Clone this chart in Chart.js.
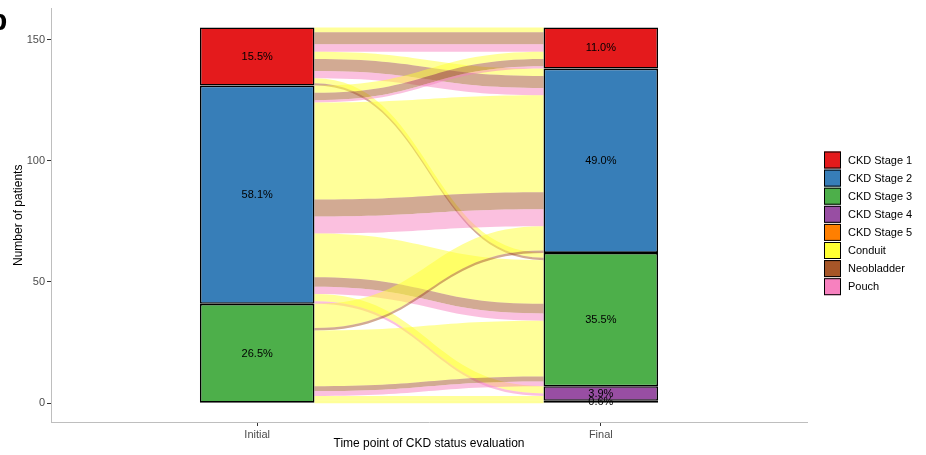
<!DOCTYPE html>
<html>
<head>
<meta charset="utf-8">
<script src="https://cdn.jsdelivr.net/npm/chart.js@4.4.0/dist/chart.umd.min.js"></script>
<style>
  html, body { margin: 0; padding: 0; background: #fff; }
  canvas { display: block; }
</style>
</head>
<body>
<canvas id="alluvialChart" width="926" height="455"></canvas>
<script>
const timePoints = ['Initial', 'Final'];
const stages = ['CKD Stage 1', 'CKD Stage 2', 'CKD Stage 3', 'CKD Stage 4', 'CKD Stage 5'];
const surgeries = ['Conduit', 'Neobladder', 'Pouch'];
const initialCounts = [24, 90, 41, 0, 0];
const finalCounts = [17, 76, 55, 6, 1];
const yTicks = [0, 50, 100, 150];

// flujos: etapa inicial -> etapa final, por tipo de derivacion (1..5, 0=Conduit 1=Neobladder 2=Pouch)
const flowFrom  = [1, 1, 1, 1, 1, 1, 1, 1, 2, 2, 2, 2, 2, 2, 2, 2, 2, 2, 2, 3, 3, 3, 3, 3, 3, 3];
const flowTo    = [1, 1, 1, 2, 2, 2, 3, 3, 1, 1, 1, 2, 2, 2, 3, 3, 3, 4, 4, 2, 2, 3, 3, 3, 4, 5];
const flowType  = [0, 1, 2, 0, 1, 2, 0, 1, 0, 1, 2, 0, 1, 2, 0, 1, 2, 0, 2, 0, 1, 0, 1, 2, 0, 0];
const flowCount = [2, 5, 3, 3, 5, 3, 2, 1, 3, 3, 1, 40, 7, 7, 18, 4, 3, 3, 1, 10, 1, 23, 2, 2, 2, 1];

const stageColors = ['#E41A1C', '#377EB8', '#4DAF4A', '#984EA3', '#FF7F00'];
const surgeryColors = ['#FFFF33', '#A65628', '#F781BF'];
const flowColors = ['rgba(255,255,51,0.5)', 'rgba(166,86,40,0.5)', 'rgba(247,129,191,0.5)'];
const stratumWidth = 1 / 3;

Chart.defaults.font.family = '"Liberation Sans", Arial, sans-serif';

function stackTops(counts) {
    let top = counts.reduce((a, b) => a + b, 0);
    return counts.map(c => { const t = top; top -= c; return t; });
}

const initTops = stackTops(initialCounts);
const finalTops = stackTops(finalCounts);
const total = initialCounts.reduce((a, b) => a + b, 0);

// posicion de cada flujo dentro de su estrato
const leftTop = [], rightTop = [];
const idx = flowCount.map((_, i) => i);
const leftCursor = initTops.slice(), rightCursor = finalTops.slice();
idx.slice().sort((a, b) => flowFrom[a] - flowFrom[b] || flowTo[a] - flowTo[b] || flowType[a] - flowType[b])
    .forEach(i => { const s = flowFrom[i] - 1; leftTop[i] = leftCursor[s]; leftCursor[s] -= flowCount[i]; });
idx.slice().sort((a, b) => flowTo[a] - flowTo[b] || flowFrom[a] - flowFrom[b] || flowType[a] - flowType[b])
    .forEach(i => { const s = flowTo[i] - 1; rightTop[i] = rightCursor[s]; rightCursor[s] -= flowCount[i]; });

const flowPlugin = {
    id: 'flows',
    beforeDatasetsDraw(chart) {
        const { ctx, scales: { x, y } } = chart;
        const x0 = x.getPixelForValue(1 + stratumWidth / 2);
        const x1 = x.getPixelForValue(2 - stratumWidth / 2);
        const xm = (x0 + x1) / 2;
        ctx.save();
        flowCount.forEach((n, i) => {
            const a0 = y.getPixelForValue(leftTop[i]);
            const a1 = y.getPixelForValue(leftTop[i] - n);
            const b0 = y.getPixelForValue(rightTop[i]);
            const b1 = y.getPixelForValue(rightTop[i] - n);
            ctx.beginPath();
            ctx.moveTo(x0, a0);
            ctx.bezierCurveTo(xm, a0, xm, b0, x1, b0);
            ctx.lineTo(x1, b1);
            ctx.bezierCurveTo(xm, b1, xm, a1, x0, a1);
            ctx.closePath();
            ctx.fillStyle = flowColors[flowType[i]];
            ctx.fill();
        });
        ctx.restore();
    }
};

const labelPlugin = {
    id: 'pctLabels',
    afterDatasetsDraw(chart) {
        const { ctx, scales: { x, y } } = chart;
        ctx.save();
        ctx.font = '11px "Liberation Sans", Arial, sans-serif';
        ctx.fillStyle = '#000';
        ctx.textAlign = 'center';
        ctx.textBaseline = 'middle';
        [[initialCounts, initTops], [finalCounts, finalTops]].forEach(([counts, tops], k) => {
            counts.forEach((c, s) => {
                if (c <= 0) return;
                const pct = (c / total * 100).toFixed(1) + '%';
                ctx.fillText(pct, x.getPixelForValue(k + 1), y.getPixelForValue(tops[s] - c / 2));
            });
        });
        ctx.restore();
    }
};

const legendPlugin = {
    id: 'sideLegend',
    afterDraw(chart) {
        const ctx = chart.ctx;
        const names = stages.concat(surgeries);
        const colors = stageColors.concat(surgeryColors);
        ctx.save();
        ctx.font = '11px "Liberation Sans", Arial, sans-serif';
        ctx.textBaseline = 'middle';
        names.forEach((name, i) => {
            const top = 151.5 + i * 18.1;
            ctx.fillStyle = colors[i];
            ctx.fillRect(824, top, 17, 17);
            ctx.strokeStyle = '#000';
            ctx.lineWidth = 1;
            ctx.strokeRect(824.5, top + 0.5, 16, 16);
            ctx.fillStyle = '#000';
            ctx.fillText(name, 848, top + 9);
        });
        // etiqueta del panel, recortada en el borde
        ctx.font = 'bold 30px "Liberation Sans", Arial, sans-serif';
        ctx.textBaseline = 'alphabetic';
        ctx.fillText('b', -11, 30);
        ctx.restore();
    }
};

const datasets = stages.map((name, s) => ({
    label: name,
    data: [[initialCounts, initTops], [finalCounts, finalTops]]
        .map(([counts, tops], k) => counts[s] > 0 ? { x: k + 1, y: [tops[s] - counts[s], tops[s]] } : null)
        .filter(Boolean),
    backgroundColor: stageColors[s],
    borderColor: '#000',
    borderWidth: 1.6,
    borderSkipped: false,
    grouped: false,
    barPercentage: stratumWidth,
    categoryPercentage: 1
}));

const chart = new Chart(document.getElementById('alluvialChart').getContext('2d'), {
    type: 'bar',
    data: { datasets: datasets },
    options: {
        responsive: false,
        animation: false,
        layout: { padding: { top: 7, right: 119, bottom: 0, left: 0 } },
        plugins: { legend: { display: false }, tooltip: { enabled: false } },
        scales: {
            x: {
                type: 'linear',
                min: 0.4,
                max: 2.6,
                offset: false,
                afterBuildTicks: s => { s.ticks = timePoints.map((_, i) => ({ value: i + 1 })); },
                afterFit: s => { s.height = 33; },
                ticks: {
                    callback: (v, i) => timePoints[i],
                    color: '#4D4D4D',
                    font: { size: 11 },
                    padding: 2,
                    maxRotation: 0,
                    autoSkip: false
                },
                grid: { offset: false, drawOnChartArea: false, tickLength: 4, color: '#333' },
                border: { color: '#BEBEBE' },
                title: { display: true, text: 'Time point of CKD status evaluation', color: '#000', font: { size: 12 }, padding: { top: 0, bottom: 4 } }
            },
            y: {
                min: -7.75,
                max: 162.75,
                afterBuildTicks: s => { s.ticks = yTicks.map(v => ({ value: v })); },
                afterFit: s => { s.width = 51; },
                ticks: { color: '#4D4D4D', font: { size: 11 }, padding: 2 },
                grid: { drawOnChartArea: false, tickLength: 4, color: '#333' },
                border: { color: '#BEBEBE' },
                title: { display: true, text: 'Number of patients', color: '#000', font: { size: 12 }, padding: { top: 11, bottom: 0 } }
            }
        }
    },
    plugins: [flowPlugin, labelPlugin, legendPlugin]
});
</script>
</body>
</html>
